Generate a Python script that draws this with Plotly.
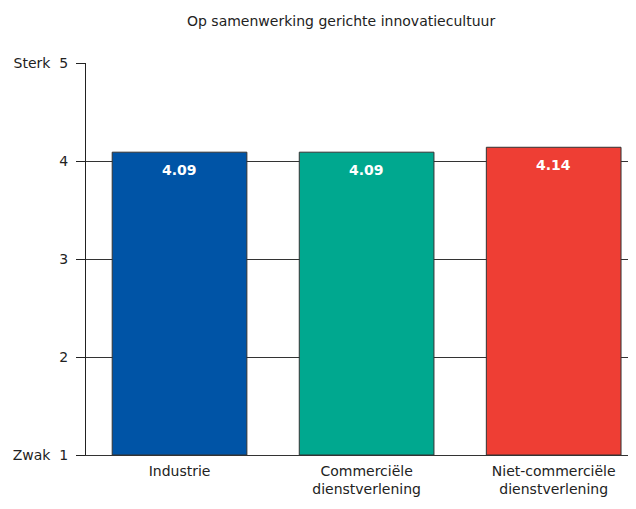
import plotly.graph_objects as go

# data
categories = ['Industrie', 'Commerciële<br>dienstverlening', 'Niet-commerciële<br>dienstverlening']
scores = [4.09, 4.09, 4.14]
labels = ['4.09', '4.09', '4.14']
colors = ['#0054a6', '#00a88f', '#ee3e34']
ytick_vals = [1, 2, 3, 4, 5]
ytick_text = ['Zwak  1', '2', '3', '4', 'Sterk  5']

font_family = 'DejaVu Sans, sans-serif'

fig = go.Figure()
fig.add_trace(go.Bar(
    x=categories, y=[s - 1 for s in scores], base=1,
    marker=dict(color=colors, line=dict(color='#333333', width=1)),
    width=0.72,
    hoverinfo='skip'
))

# value labels just under the top of each bar
for cat, s, lab in zip(categories, scores, labels):
    fig.add_annotation(x=cat, y=s, text='<b>' + lab + '</b>', showarrow=False,
                       yanchor='middle', yshift=-18,
                       font=dict(color='white', size=14, family=font_family))

fig.add_annotation(text='Op samenwerking gerichte innovatiecultuur',
                   x=0.4636, y=1, xref='paper', yref='paper',
                   yshift=42, yanchor='middle', xanchor='center',
                   showarrow=False, font=dict(size=14))

fig.update_layout(
    width=628, height=501,
    margin=dict(l=78, r=0, t=55, b=54),
    plot_bgcolor='white', paper_bgcolor='white',
    font=dict(family=font_family, size=14, color='#222222'),
    showlegend=False,
)
fig.update_xaxes(range=[-0.5, 2.44], showgrid=False,
                 showline=True, linecolor='#333333', linewidth=1,
                 ticks='', tickfont=dict(size=14), ticklabelstandoff=3)
fig.update_yaxes(range=[1, 5], tickvals=ytick_vals, ticktext=ytick_text,
                 showgrid=True, gridcolor='#333333', gridwidth=1,
                 showline=True, linecolor='#222222', linewidth=1,
                 ticks='outside', ticklen=9, tickcolor='#222222',
                 zeroline=False, tickfont=dict(size=14), ticklabelstandoff=5)

fig.write_html('out.html')
